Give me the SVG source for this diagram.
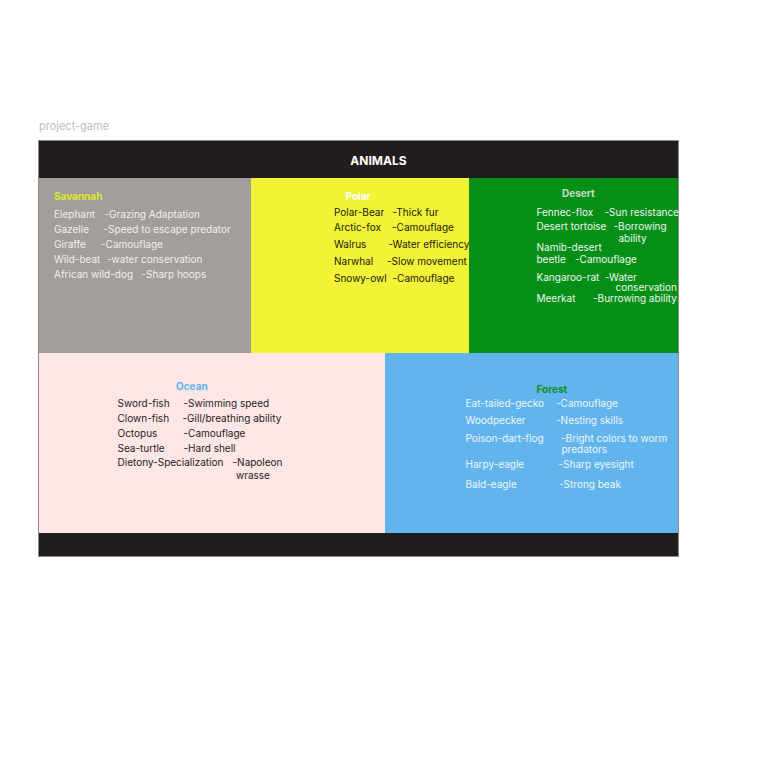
<svg xmlns="http://www.w3.org/2000/svg" width="758" height="757" viewBox="0 0 758 757">
<style>
text{font-family:Inter,"Noto Sans","Liberation Sans",sans-serif;font-size:10px;dominant-baseline:central}
.t{font-weight:bold}
.sv{fill:#f1efee}
.po{fill:#1b1b12}
.de{fill:#eef7ee}
.oc{fill:#1f1c1c}
.fo{fill:#eef5fb}
</style>
<rect width="758" height="757" fill="#ffffff"/>
<text x="39" y="126" style="font-size:11px;fill:#bdbdbd">project-game</text>
<g id="frame">
<rect x="38.5" y="140.5" width="640" height="416" fill="#201d1c" stroke="#8a8a8a" stroke-width="1"/>
</g>
<g id="header">
<rect x="39" y="141" width="639" height="37" fill="#201d1c"/>
<text x="378.5" y="160" text-anchor="middle" class="t" style="font-size:12px;fill:#ffffff">ANIMALS</text>
</g>
<g id="savannah">
<rect x="39" y="178" width="212" height="175" fill="#a39d9b"/>
<text x="54" y="196" class="t" style="fill:#dbe92e">Savannah</text>
<g class="sv">
<text x="54" y="214">Elephant</text><text x="104.5" y="214">-Grazing Adaptation</text>
<text x="54" y="229">Gazelle</text><text x="103.5" y="229">-Speed to escape predator</text>
<text x="54" y="244">Giraffe</text><text x="101" y="244">-Camouflage</text>
<text x="54" y="259">Wild-beat</text><text x="107" y="259">-water conservation</text>
<text x="54" y="274">African wild-dog</text><text x="141.5" y="274">-Sharp hoops</text>
</g>
</g>
<g id="polar">
<rect x="251" y="178" width="218" height="175" fill="#f2f237"/>
<text x="345.5" y="196" class="t" style="fill:#ffffff">Polar</text>
<g class="po">
<text x="334" y="211.5">Polar-Bear</text><text x="392.5" y="211.5">-Thick fur</text>
<text x="334" y="226.5">Arctic-fox</text><text x="392" y="226.5">-Camouflage</text>
<text x="334" y="244">Walrus</text><text x="388.5" y="244">-Water efficiency</text>
<text x="334" y="261">Narwhal</text><text x="387" y="261">-Slow movement</text>
<text x="334" y="277.5">Snowy-owl</text><text x="392.5" y="277.5">-Camouflage</text>
</g>
</g>
<g id="desert">
<rect x="469" y="178" width="209" height="175" fill="#058f17"/>
<text x="562" y="192.5" class="t" style="fill:#c9dcc9">Desert</text>
<g class="de">
<text x="536.5" y="212">Fennec-flox</text><text x="604.5" y="212">-Sun resistance</text>
<text x="536.5" y="226">Desert tortoise</text><text x="613.5" y="226">-Borrowing</text>
<text x="618.5" y="238">ability</text>
<text x="536.5" y="247">Namib-desert</text>
<text x="536.5" y="259">beetle</text><text x="575" y="259">-Camouflage</text>
<text x="536.5" y="277">Kangaroo-rat</text><text x="605" y="277">-Water</text>
<text x="615.5" y="286.5">conservation</text>
<text x="536.5" y="298">Meerkat</text><text x="593" y="298">-Burrowing ability</text>
</g>
</g>
<g id="ocean">
<rect x="39" y="353" width="346" height="180" fill="#fde6e6"/>
<text x="176" y="385.5" class="t" style="fill:#63b5ec">Ocean</text>
<g class="oc">
<text x="117.5" y="402.5">Sword-fish</text><text x="183.5" y="402.5">-Swimming speed</text>
<text x="117.5" y="417.5">Clown-fish</text><text x="182.5" y="417.5">-Gill/breathing ability</text>
<text x="117.5" y="432.5">Octopus</text><text x="183.5" y="432.5">-Camouflage</text>
<text x="117.5" y="447.5">Sea-turtle</text><text x="183.5" y="447.5">-Hard shell</text>
<text x="117.5" y="462">Dietony-Specialization</text><text x="232.5" y="462">-Napoleon</text>
<text x="236" y="474.5">wrasse</text>
</g>
</g>
<g id="forest">
<rect x="385" y="353" width="293" height="180" fill="#61b5ec"/>
<text x="536.5" y="388.5" class="t" style="fill:#0f8f1f">Forest</text>
<g class="fo">
<text x="465.5" y="402.5">Eat-tailed-gecko</text><text x="556" y="402.5">-Camouflage</text>
<text x="465.5" y="420">Woodpecker</text><text x="556" y="420">-Nesting skills</text>
<text x="465.5" y="437.5">Poison-dart-flog</text><text x="561" y="437.5">-Bright colors to worm</text>
<text x="561.5" y="449">predators</text>
<text x="465.5" y="463.5">Harpy-eagle</text><text x="558.5" y="463.5">-Sharp eyesight</text>
<text x="465.5" y="484">Bald-eagle</text><text x="559" y="484">-Strong beak</text>
</g>
</g>
<g id="footer">
<rect x="39" y="533" width="639" height="23" fill="#201d1c"/>
</g>
<g id="connectors"></g>
</svg>
